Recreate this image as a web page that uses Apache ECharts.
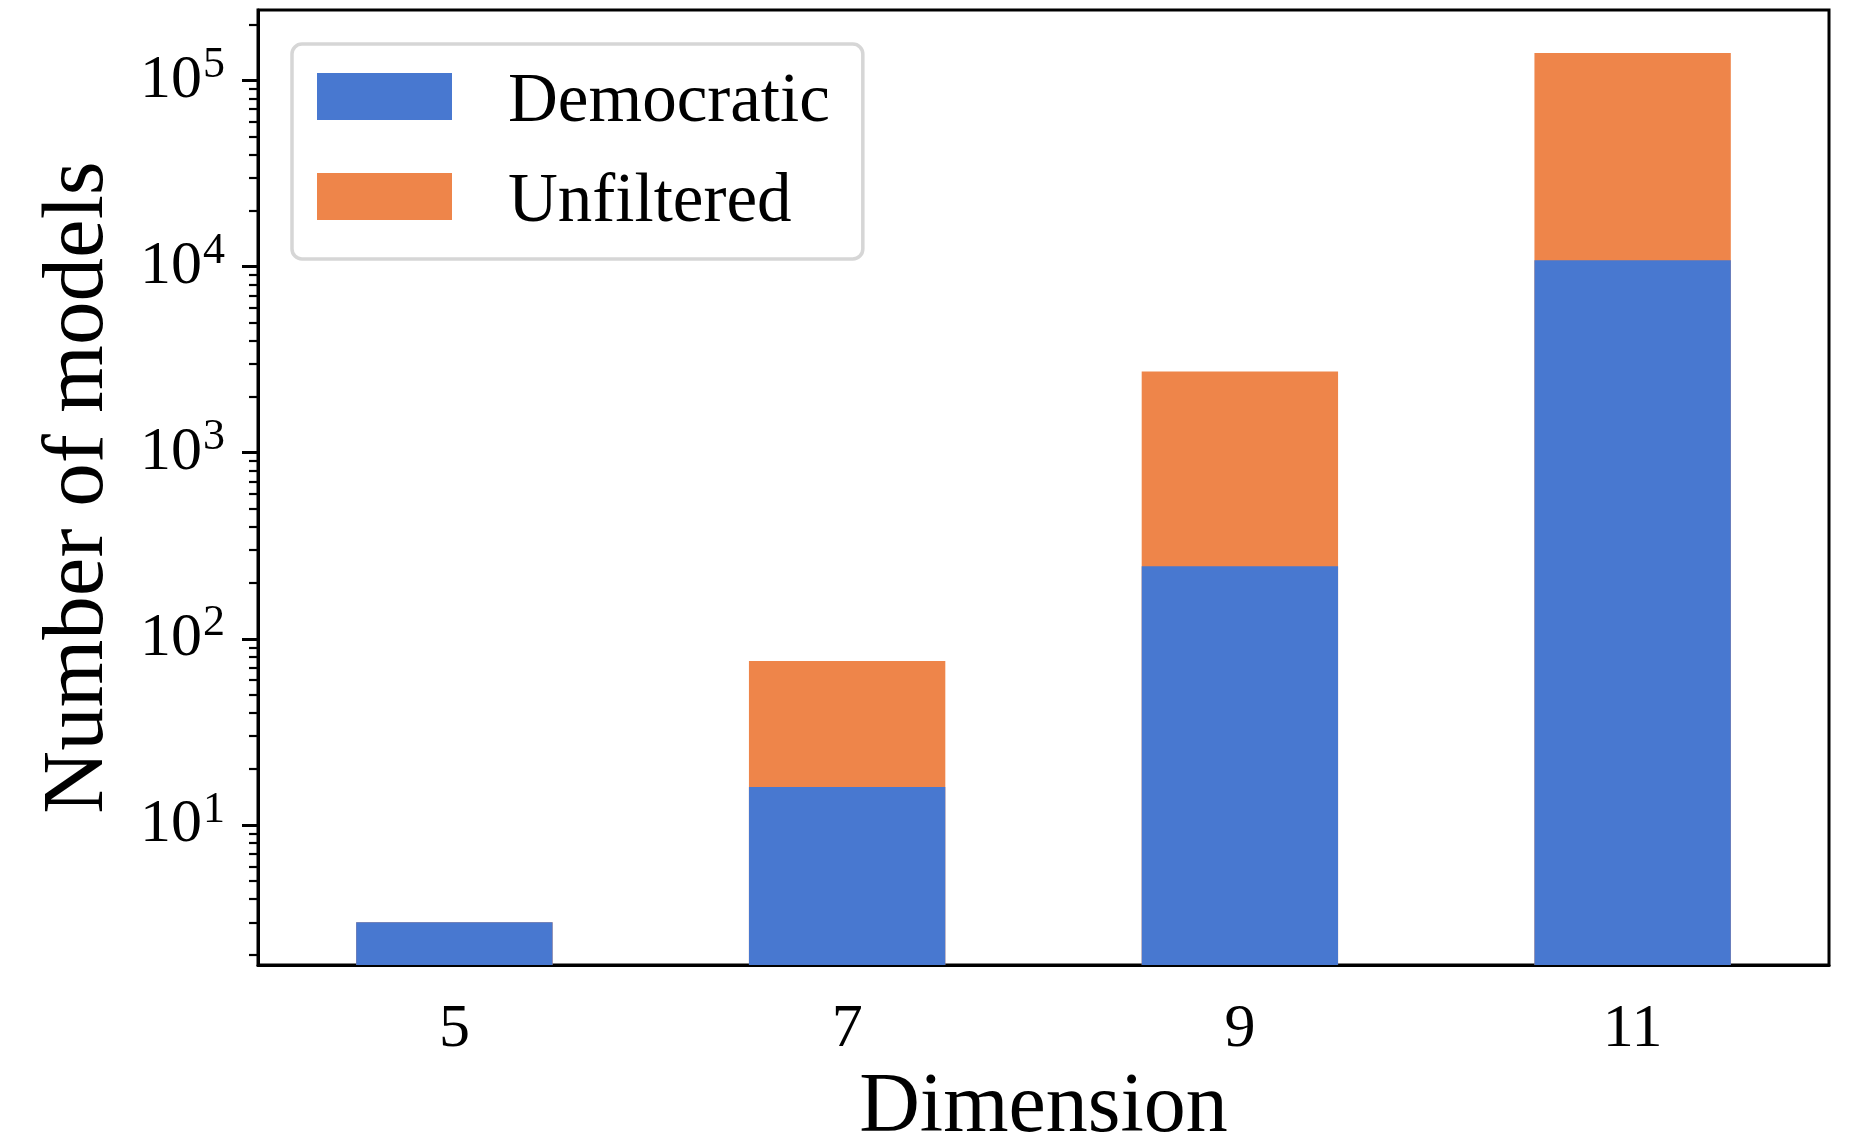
<!DOCTYPE html>
<html>
<head>
<meta charset="utf-8">
<script src="https://cdn.jsdelivr.net/npm/echarts@6/dist/echarts.min.js"></script>
<style>
html,body{margin:0;padding:0;background:#fff;}
#chart{width:1871px;height:1146px;}
</style>
</head>
<body>
<div id="chart"></div>
<script>
const categories = ['5', '7', '9', '11'];
const democratic = [3, 16, 245, 10800];
const unfiltered = [3, 76, 2730, 140000];
const majorTicks = [10, 100, 1000, 10000, 100000];
const minorTicks = [2, 3, 4, 5, 6, 7, 8, 9,
  20, 30, 40, 50, 60, 70, 80, 90,
  200, 300, 400, 500, 600, 700, 800, 900,
  2000, 3000, 4000, 5000, 6000, 7000, 8000, 9000,
  20000, 30000, 40000, 50000, 60000, 70000, 80000, 90000,
  200000];
const yMin = 1.77;
const yMax = 238600;

const FONT = "'Liberation Serif', 'DejaVu Serif', serif";
const chart = echarts.init(document.getElementById('chart'));

const option = {
  backgroundColor: '#fff',
  animation: false,
  grid: {
    left: 258, top: 10, right: 42, bottom: 181,
    show: true, borderColor: '#000', borderWidth: 3,
    containLabel: false,
    outerBoundsMode: 'none'
  },
  legend: {
    orient: 'vertical',
    left: 292, top: 44,
    data: ['Democratic', 'Unfiltered'],
    icon: 'rect',
    itemWidth: 135, itemHeight: 47, itemGap: 31,
    padding: [24, 33, 22, 25],
    borderColor: '#d6d6d6', borderWidth: 3.5, borderRadius: 10,
    backgroundColor: '#fff',
    selectedMode: false,
    formatter: '{t|{name}}',
    textStyle: {
      fontFamily: FONT, fontSize: 69, color: '#000',
      rich: { t: { fontFamily: FONT, fontSize: 69, color: '#000', padding: [12, 0, 0, 51] } }
    }
  },
  xAxis: {
    type: 'category',
    data: categories,
    name: 'Dimension',
    nameLocation: 'middle',
    nameGap: 102,
    nameTextStyle: { fontFamily: FONT, fontSize: 84, color: '#000' },
    axisLine: { lineStyle: { color: '#000', width: 3 } },
    axisTick: { alignWithLabel: true, length: 16, lineStyle: { color: '#000', width: 3 } },
    axisLabel: { fontFamily: FONT, fontSize: 62, color: '#000', margin: 34 },
    splitLine: { show: false }
  },
  yAxis: [{
    type: 'log',
    logBase: 10,
    min: yMin, max: yMax,
    name: 'Number of models',
    nameLocation: 'middle',
    nameGap: 135,
    nameTextStyle: { fontFamily: FONT, fontSize: 87, color: '#000' },
    axisLine: { show: true, lineStyle: { color: '#000', width: 3 } },
    axisTick: { show: true, length: 16, customValues: majorTicks, lineStyle: { color: '#000', width: 3 } },
    axisLabel: {
      customValues: majorTicks,
      margin: 33,
      formatter: function (v) {
        const e = Math.round(Math.log10(v));
        return '{b|10}{s|' + e + '}';
      },
      rich: {
        b: { fontFamily: FONT, fontSize: 62, color: '#000' },
        s: { fontFamily: FONT, fontSize: 44, color: '#000', verticalAlign: 'bottom', padding: [0, 0, 30, 1] }
      }
    },
    splitLine: { show: false },
    minorTick: { show: false }
  }, {
    type: 'log',
    logBase: 10,
    min: yMin, max: yMax,
    position: 'left',
    axisLine: { show: false },
    axisTick: { show: true, length: 9, customValues: minorTicks, lineStyle: { color: '#000', width: 2.2 } },
    axisLabel: { show: false },
    splitLine: { show: false }
  }],
  series: [{
    name: 'Unfiltered',
    type: 'bar',
    data: unfiltered,
    barWidth: '50%',
    itemStyle: { color: '#EE854A' },
    clip: true,
    z: 2
  }, {
    name: 'Democratic',
    type: 'bar',
    data: democratic,
    barWidth: '50%',
    barGap: '-100%',
    itemStyle: { color: '#4878D0' },
    clip: true,
    z: 3
  }]
};
chart.setOption(option);
</script>
</body>
</html>
